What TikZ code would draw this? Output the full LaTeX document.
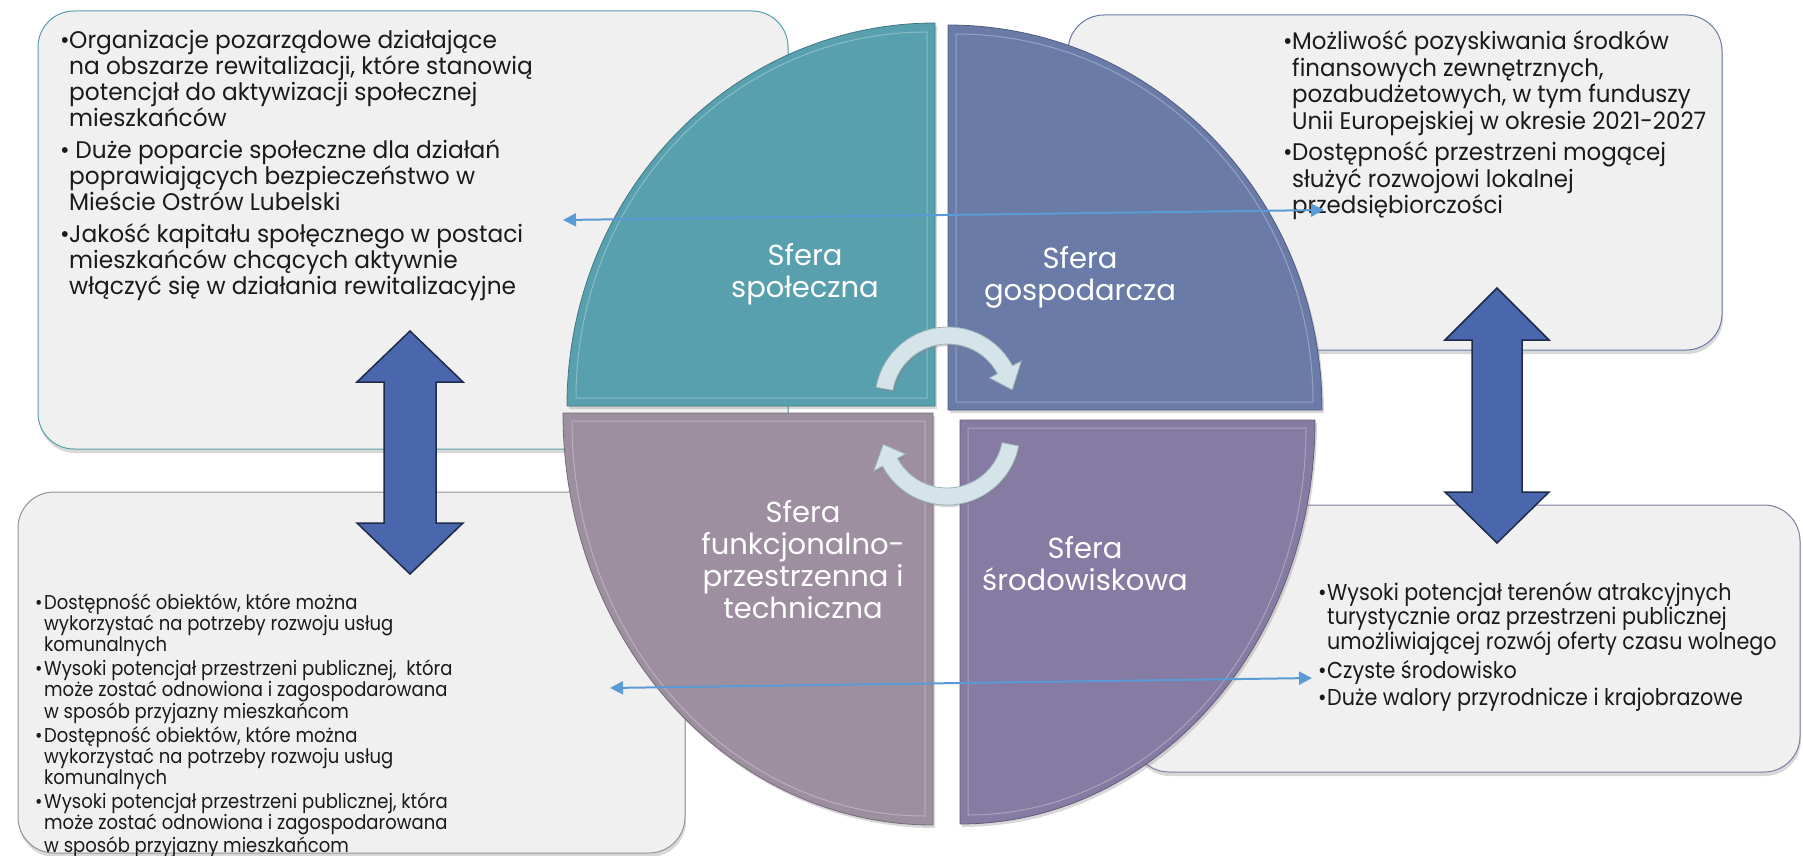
\documentclass[tikz,border=0pt]{standalone}
\usepackage{fontspec}
\setmainfont{Poppins}
\newfontfamily\boxfont[FakeStretch=0.9]{Poppins}
\newfontfamily\boxfontA[FakeStretch=0.97]{Poppins}
\newfontfamily\boxfontB[FakeStretch=0.955]{Poppins}
\usetikzlibrary{shadows,arrows.meta,calc}
\definecolor{teal1}{HTML}{58A0AE}
\definecolor{slate1}{HTML}{6A7BA8}
\definecolor{mauve1}{HTML}{9D8EA0}
\definecolor{purp1}{HTML}{867BA2}
\definecolor{boxfill}{HTML}{F0F0F0}
\definecolor{bigarrowc}{HTML}{4A66AC}
\definecolor{bigarrowline}{HTML}{1E2B4A}
\definecolor{thinarrowc}{HTML}{5B9BD5}
\definecolor{cyclefill}{HTML}{D5E4E9}
\definecolor{cycleline}{HTML}{9DB3BC}
\definecolor{txt}{HTML}{1A1A1A}
\newcommand{\itm}[1]{\makebox[9pt][l]{•}#1}
\newcommand{\cnt}[1]{\hspace*{9pt}#1}
\tikzset{
  infobox/.style={fill=boxfill, line width=1pt, rounded corners=36pt,
    drop shadow={shadow xshift=1pt, shadow yshift=-4pt, opacity=0.3}},
  quad/.style={line width=0.8pt,
    drop shadow={shadow xshift=2pt, shadow yshift=-3pt, opacity=0.3}},
  quadin/.style={draw=white, opacity=0.3, line width=1pt},
  quadlabel/.style={text=white, align=center, inner sep=0pt, font=\fontsize{29}{32}\selectfont},
  boxtext/.style={text=txt, align=left, inner sep=0pt, anchor=base west},
  thinarrow/.style={draw=thinarrowc, line width=2pt,
    {Triangle[length=13pt,width=13pt]}-{Triangle[length=13pt,width=13pt]}},
  bigarrow/.style={fill=bigarrowc, draw=bigarrowline, line width=1.5pt, line join=miter},
  cyc/.style={fill=cyclefill, draw=cycleline, line width=0.8pt,
    drop shadow={shadow xshift=1.5pt, shadow yshift=-2pt, opacity=0.35}}
}
\begin{document}
\begin{tikzpicture}[x=1pt,y=-1pt]
\useasboundingbox (0,0) rectangle (1803,856);
\fill[white] (0,0) rectangle (1803,856);
% boxes
\path[infobox, draw=teal1] (38,11) rectangle (788,449);
\path[infobox, draw=slate1] (1068,15) rectangle (1722,350);
\path[infobox, draw=mauve1] (18,492) rectangle (685,853);
\path[infobox, draw=purp1] (1133,505) rectangle (1800,772);
% pie quadrants
\path[quad, fill=teal1, draw=teal1!75!black] (935,406) -- (567,406) arc[start angle=180,end angle=270,x radius=368,y radius=383] -- cycle;
\path[quad, fill=slate1, draw=slate1!75!black] (948,410) -- (948,25) arc[start angle=270,end angle=360,x radius=374,y radius=385] -- cycle;
\path[quad, fill=purp1, draw=purp1!75!black] (960,420) -- (1315,420) arc[start angle=0,end angle=90,x radius=355,y radius=404] -- cycle;
\path[quad, fill=mauve1, draw=mauve1!75!black] (933,413) -- (933,825) arc[start angle=90,end angle=180,x radius=370,y radius=412] -- cycle;
\draw[quadin] (927,398) -- (576,398) arc[start angle=180,end angle=270,x radius=351,y radius=366] -- cycle;
\draw[quadin] (956,402) -- (956,34) arc[start angle=270,end angle=360,x radius=357,y radius=368] -- cycle;
\draw[quadin] (968,428) -- (1306,428) arc[start angle=0,end angle=90,x radius=338,y radius=387] -- cycle;
\draw[quadin] (925,421) -- (925,816) arc[start angle=90,end angle=180,x radius=353,y radius=395] -- cycle;
% quadrant labels
\node[quadlabel] (spol) at (805,274) {Sfera\\społeczna};
\node[quadlabel] (gosp) at (1080,277) {Sfera\\gospodarcza};
\node[quadlabel] (funk) at (803,560) {Sfera\\funkcjonalno-\\przestrzenna i\\techniczna};
\node[quadlabel] (srod) at (1085,564) {Sfera\\środowiskowa};
% cycle arrows
\coordinate (T) at (948,400);
\coordinate (B) at (947,432);
\path[cyc] ($(T)+(-170:73)$) arc[start angle=-170,end angle=-28,radius=73] -- ($(T)+(-28:83)$) -- ($(T)+(-9:65)$) -- ($(T)+(-28:47)$) -- ($(T)+(-28:56)$) arc[start angle=-28,end angle=-170,radius=56] -- cycle;
\path[cyc] ($(B)+(11:73)$) arc[start angle=11,end angle=152,radius=73] -- ($(B)+(152:83)$) -- ($(B)+(169:65)$) -- ($(B)+(152:47)$) -- ($(B)+(152:56)$) arc[start angle=152,end angle=11,radius=56] -- cycle;
% box texts (anchor = baseline of last line)
\node[boxtext, font=\boxfontA\fontsize{24}{26}\selectfont] (tlt) at (60,294.5) {%
\itm{Organizacje pozarządowe działające}\\
\cnt{na obszarze rewitalizacji, które stanowią}\\
\cnt{potencjał do aktywizacji społecznej}\\
\cnt{mieszkańców}\\[6pt]
\itm{ Duże poparcie społeczne dla działań}\\
\cnt{poprawiających bezpieczeństwo w}\\
\cnt{Mieście Ostrów Lubelski}\\[6pt]
\itm{Jakość kapitału społęcznego w postaci}\\
\cnt{mieszkańców chcących aktywnie}\\
\cnt{włączyć się w działania rewitalizacyjne}};
\node[boxtext, font=\boxfontB\fontsize{24}{26.5}\selectfont] (trt) at (1283,213.5) {%
\itm{Możliwość pozyskiwania środków}\\
\cnt{finansowych zewnętrznych,}\\
\cnt{pozabudżetowych, w tym funduszy}\\
\cnt{Unii Europejskiej w okresie 2021-2027}\\[5pt]
\itm{Dostępność przestrzeni mogącej}\\
\cnt{służyć rozwojowi lokalnej}\\
\cnt{przedsiębiorczości}};
\node[boxtext, font=\boxfont\fontsize{20}{21}\selectfont] (blt) at (35,852) {%
\itm{Dostępność obiektów, które można}\\
\cnt{wykorzystać na potrzeby rozwoju usług}\\
\cnt{komunalnych}\\[3pt]
\itm{Wysoki potencjał przestrzeni publicznej,\ \ która}\\
\cnt{może zostać odnowiona i zagospodarowana}\\
\cnt{w sposób przyjazny mieszkańcom}\\[3pt]
\itm{Dostępność obiektów, które można}\\
\cnt{wykorzystać na potrzeby rozwoju usług}\\
\cnt{komunalnych}\\[3pt]
\itm{Wysoki potencjał przestrzeni publicznej, która}\\
\cnt{może zostać odnowiona i zagospodarowana}\\
\cnt{w sposób przyjazny mieszkańcom}};
\node[boxtext, font=\boxfont\fontsize{23}{24}\selectfont] (brt) at (1318,705) {%
\itm{Wysoki potencjał terenów atrakcyjnych}\\
\cnt{turystycznie oraz przestrzeni publicznej}\\
\cnt{umożliwiającej rozwój oferty czasu wolnego}\\[3pt]
\itm{Czyste środowisko}\\[3pt]
\itm{Duże walory przyrodnicze i krajobrazowe}};
% thin arrows
\coordinate (a1l) at (563,220);
\coordinate (a1r) at (1324,210);
\coordinate (a2l) at (610,688);
\coordinate (a2r) at (1312,678);
\draw[thinarrow] (a1l) -- (a1r);
\draw[thinarrow] (a2l) -- (a2r);
% big double arrows
\path[bigarrow] (410,331) -- (463,382) -- (436,382) -- (436,523) -- (463,523) -- (410,574) -- (357,523) -- (384,523) -- (384,382) -- (357,382) -- cycle;
\path[bigarrow] (1497,288) -- (1549,340) -- (1522,340) -- (1522,492) -- (1549,492) -- (1497,543) -- (1445,492) -- (1472,492) -- (1472,340) -- (1445,340) -- cycle;
\end{tikzpicture}
\end{document}
